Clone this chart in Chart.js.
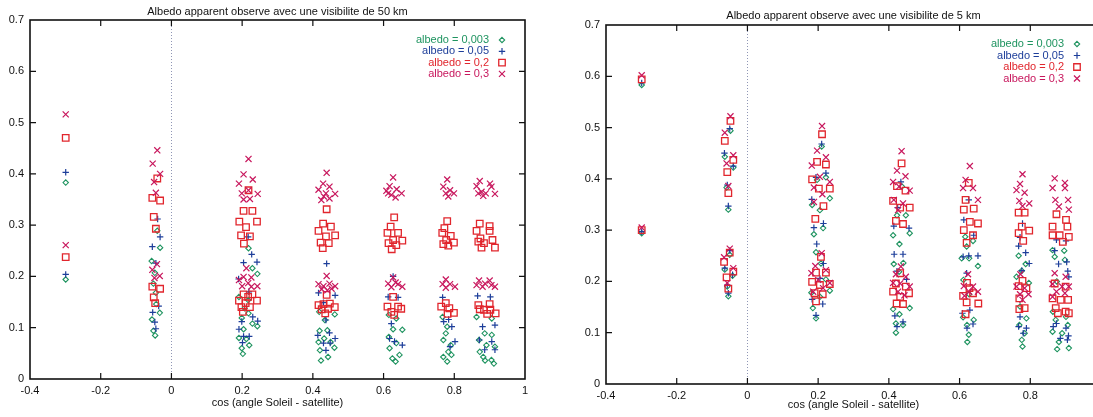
<!DOCTYPE html>
<html><head><meta charset="utf-8">
<script src="https://cdn.jsdelivr.net/npm/chart.js@4/dist/chart.umd.min.js"></script>
<style>
html,body{margin:0;padding:0;background:#fff;width:1093px;height:417px;overflow:hidden;position:relative}
#w1{position:absolute;left:0;top:0;width:546px;height:417px}
#w2{position:absolute;left:576px;top:0;width:546px;height:417px}
</style></head><body>
<div id="w1"><canvas id="c1" width="546" height="417"></canvas></div>
<div id="w2"><canvas id="c2" width="546" height="417"></canvas></div>
<script>
// ---------- tick labels / labels ----------
const xTickValues = [-0.4, -0.2, 0, 0.2, 0.4, 0.6, 0.8, 1];
const yTickValues = [0, 0.1, 0.2, 0.3, 0.4, 0.5, 0.6, 0.7];
const seriesLabels = ['albedo = 0,003', 'albedo = 0,05', 'albedo = 0,2', 'albedo = 0,3'];
const xAxisLabel = 'cos (angle Soleil - satellite)';
const title50 = 'Albedo apparent observe avec une visibilite de 50 km';
const title5 = 'Albedo apparent observe avec une visibilite de 5 km';

// ---------- visibility 50 km ----------
const vis50_a0003 = [[-0.299,0.194],[-0.299,0.383],
[-0.040,0.289],[-0.032,0.256],[-0.056,0.230],[-0.047,0.207],[-0.051,0.186],[-0.044,0.168],[-0.043,0.146],[-0.033,0.129],[-0.055,0.116],[-0.051,0.094],[-0.046,0.085],
[0.218,0.255],[0.229,0.216],[0.243,0.205],[0.191,0.160],[0.217,0.154],[0.218,0.128],[0.199,0.119],[0.229,0.108],[0.243,0.103],[0.204,0.097],[0.191,0.080],[0.212,0.078],[0.220,0.066],[0.199,0.060],[0.202,0.049],[0.207,0.138],
[0.462,0.126],[0.418,0.131],[0.434,0.115],[0.419,0.094],[0.441,0.095],[0.450,0.072],[0.461,0.061],[0.420,0.056],[0.443,0.043],[0.423,0.036],[0.416,0.072],[0.432,0.079],
[0.615,0.125],[0.636,0.118],[0.627,0.097],[0.653,0.096],[0.615,0.082],[0.636,0.070],[0.617,0.060],[0.645,0.047],[0.625,0.040],[0.634,0.034],
[0.767,0.121],[0.780,0.102],[0.776,0.089],[0.769,0.076],[0.790,0.066],[0.783,0.053],[0.769,0.043],[0.780,0.034],[0.792,0.047],
[0.863,0.121],[0.906,0.118],[0.886,0.089],[0.906,0.086],[0.870,0.076],[0.891,0.066],[0.915,0.063],[0.872,0.053],[0.882,0.043],[0.905,0.037],[0.912,0.030],[0.887,0.036]];
const vis50_a005 = [[-0.299,0.204],[-0.299,0.403],
[-0.039,0.312],[-0.032,0.277],[-0.054,0.258],[-0.044,0.226],[-0.053,0.130],[-0.047,0.111],[-0.044,0.098],[-0.036,0.142],
[0.217,0.277],[0.227,0.243],[0.204,0.227],[0.242,0.228],[0.190,0.195],[0.219,0.170],[0.199,0.112],[0.230,0.121],[0.244,0.113],[0.191,0.097],[0.204,0.083],[0.220,0.083],[0.201,0.071],
[0.439,0.225],[0.416,0.168],[0.463,0.163],[0.430,0.149],[0.437,0.115],[0.447,0.090],[0.414,0.085],[0.463,0.079],[0.430,0.070],[0.437,0.056],[0.449,0.070],
[0.627,0.200],[0.613,0.160],[0.641,0.159],[0.622,0.108],[0.617,0.079],[0.653,0.066],[0.631,0.073],
[0.767,0.159],[0.784,0.116],[0.770,0.112],[0.793,0.102],[0.802,0.073],[0.788,0.063],
[0.866,0.162],[0.902,0.160],[0.915,0.105],[0.880,0.102],[0.871,0.076],[0.906,0.073],[0.886,0.057],[0.915,0.057]];
const vis50_a02 = [[-0.299,0.470],[-0.299,0.2375],
[-0.040,0.391],[-0.054,0.353],[-0.032,0.348],[-0.050,0.316],[-0.044,0.293],[-0.054,0.180],[-0.032,0.176],[-0.050,0.159],[-0.046,0.148],
[0.218,0.368],[0.204,0.328],[0.229,0.328],[0.192,0.307],[0.242,0.307],[0.211,0.296],[0.197,0.280],[0.222,0.278],[0.205,0.264],[0.204,0.165],[0.229,0.165],[0.191,0.153],[0.242,0.153],[0.210,0.148],[0.198,0.140],[0.222,0.140],[0.202,0.131],[0.217,0.160],
[0.439,0.331],[0.429,0.303],[0.451,0.297],[0.416,0.289],[0.463,0.280],[0.437,0.278],[0.422,0.266],[0.445,0.265],[0.428,0.255],[0.439,0.164],[0.416,0.144],[0.430,0.146],[0.448,0.147],[0.462,0.140],[0.425,0.136],[0.443,0.137],[0.435,0.128],
[0.630,0.315],[0.620,0.297],[0.641,0.285],[0.611,0.285],[0.627,0.271],[0.653,0.270],[0.614,0.265],[0.636,0.261],[0.623,0.253],[0.627,0.160],[0.611,0.141],[0.641,0.141],[0.622,0.131],[0.650,0.137],[0.630,0.125],
[0.780,0.308],[0.772,0.294],[0.766,0.285],[0.790,0.279],[0.777,0.271],[0.799,0.266],[0.783,0.260],[0.769,0.263],[0.776,0.148],[0.763,0.141],[0.786,0.138],[0.799,0.129],[0.781,0.127],
[0.872,0.303],[0.900,0.298],[0.863,0.289],[0.900,0.289],[0.874,0.274],[0.908,0.271],[0.884,0.265],[0.868,0.268],[0.915,0.256],[0.877,0.256],[0.868,0.144],[0.900,0.146],[0.872,0.136],[0.884,0.135],[0.902,0.135],[0.917,0.128],[0.893,0.127]];
const vis50_a03 = [[-0.299,0.516],[-0.299,0.261],
[-0.040,0.446],[-0.053,0.420],[-0.032,0.400],[-0.049,0.384],[-0.044,0.363],[-0.054,0.213],[-0.041,0.224],[-0.033,0.201],[-0.048,0.197],
[0.218,0.429],[0.204,0.399],[0.230,0.389],[0.191,0.381],[0.199,0.362],[0.244,0.361],[0.204,0.350],[0.222,0.351],[0.218,0.368],[0.204,0.199],[0.191,0.193],[0.226,0.198],[0.200,0.181],[0.217,0.187],[0.243,0.181],[0.212,0.216],[0.226,0.180],
[0.439,0.402],[0.429,0.381],[0.447,0.375],[0.416,0.369],[0.463,0.361],[0.437,0.362],[0.424,0.349],[0.447,0.352],[0.431,0.356],[0.439,0.201],[0.416,0.185],[0.430,0.181],[0.447,0.186],[0.463,0.181],[0.425,0.175],[0.441,0.173],[0.453,0.176],
[0.627,0.393],[0.617,0.376],[0.608,0.367],[0.637,0.370],[0.651,0.362],[0.622,0.359],[0.634,0.354],[0.613,0.362],[0.627,0.198],[0.613,0.186],[0.641,0.185],[0.653,0.180],[0.622,0.179],[0.634,0.188],
[0.780,0.389],[0.769,0.375],[0.788,0.368],[0.776,0.362],[0.799,0.362],[0.783,0.356],[0.776,0.194],[0.767,0.185],[0.788,0.185],[0.802,0.180],[0.776,0.178],
[0.872,0.386],[0.863,0.376],[0.901,0.381],[0.905,0.375],[0.877,0.365],[0.889,0.362],[0.915,0.361],[0.868,0.362],[0.882,0.357],[0.870,0.192],[0.900,0.192],[0.863,0.183],[0.880,0.180],[0.905,0.183],[0.915,0.180],[0.887,0.186]];

// ---------- visibility 5 km ----------
const vis5_a0003 = [[-0.299,0.583],[-0.299,0.294],
[-0.048,0.494],[-0.064,0.443],[-0.040,0.422],[-0.059,0.383],[-0.054,0.340],[-0.050,0.252],[-0.064,0.223],[-0.042,0.211],[-0.057,0.190],[-0.054,0.171],
[0.210,0.463],[0.197,0.398],[0.222,0.403],[0.183,0.349],[0.205,0.339],[0.233,0.362],[0.214,0.304],[0.188,0.292],[0.194,0.257],[0.208,0.235],[0.222,0.204],[0.233,0.182],[0.181,0.178],[0.185,0.148],[0.205,0.170],[0.194,0.128],
[0.437,0.385],[0.423,0.329],[0.448,0.329],[0.412,0.290],[0.459,0.294],[0.430,0.273],[0.414,0.234],[0.441,0.236],[0.429,0.219],[0.412,0.146],[0.459,0.148],[0.430,0.136],[0.420,0.118],[0.440,0.115],[0.420,0.100],
[0.616,0.287],[0.638,0.279],[0.620,0.268],[0.606,0.245],[0.627,0.245],[0.652,0.230],[0.611,0.203],[0.627,0.175],[0.610,0.130],[0.640,0.125],[0.621,0.115],[0.626,0.096],[0.622,0.082],
[0.767,0.250],[0.787,0.234],[0.761,0.209],[0.776,0.221],[0.771,0.151],[0.789,0.128],[0.769,0.115],[0.784,0.099],[0.776,0.086],[0.778,0.073],[0.796,0.197],
[0.863,0.261],[0.896,0.260],[0.869,0.248],[0.898,0.242],[0.875,0.200],[0.864,0.141],[0.901,0.131],[0.872,0.125],[0.906,0.115],[0.863,0.102],[0.890,0.099],[0.881,0.082],[0.909,0.070],[0.876,0.068]];
const vis5_a005 = [[-0.299,0.587],[-0.299,0.297],
[-0.050,0.498],[-0.065,0.450],[-0.040,0.425],[-0.057,0.388],[-0.054,0.347],[-0.050,0.260],[-0.064,0.226],[-0.042,0.213],[-0.057,0.193],[-0.054,0.177],
[0.210,0.468],[0.194,0.403],[0.222,0.411],[0.182,0.360],[0.215,0.313],[0.188,0.305],[0.196,0.273],[0.205,0.206],[0.213,0.156],[0.194,0.134],[0.183,0.165],[0.215,0.235],
[0.434,0.394],[0.425,0.344],[0.414,0.308],[0.457,0.304],[0.415,0.253],[0.440,0.253],[0.423,0.220],[0.450,0.204],[0.417,0.133],[0.440,0.121],[0.423,0.112],
[0.626,0.359],[0.612,0.320],[0.640,0.290],[0.626,0.250],[0.652,0.250],[0.610,0.248],[0.620,0.216],[0.629,0.144],[0.608,0.138],[0.638,0.117],[0.621,0.109],
[0.778,0.313],[0.771,0.286],[0.787,0.256],[0.767,0.269],[0.797,0.235],[0.776,0.221],[0.771,0.131],[0.789,0.109],[0.767,0.112],[0.780,0.099],
[0.874,0.281],[0.901,0.279],[0.869,0.260],[0.903,0.238],[0.880,0.234],[0.906,0.220],[0.909,0.209],[0.874,0.118],[0.901,0.109],[0.865,0.112],[0.908,0.094],[0.885,0.089],[0.905,0.086]];
const vis5_a02 = [[-0.299,0.594],[-0.299,0.300],
[-0.048,0.513],[-0.064,0.474],[-0.040,0.437],[-0.057,0.413],[-0.054,0.372],[-0.050,0.256],[-0.066,0.238],[-0.040,0.219],[-0.059,0.208],[-0.054,0.186],
[0.211,0.487],[0.197,0.433],[0.222,0.428],[0.183,0.399],[0.202,0.381],[0.233,0.381],[0.215,0.347],[0.192,0.322],[0.208,0.248],[0.194,0.217],[0.222,0.217],[0.183,0.199],[0.205,0.193],[0.233,0.195],[0.190,0.177],[0.213,0.175],[0.194,0.161],
[0.436,0.430],[0.423,0.386],[0.447,0.377],[0.412,0.357],[0.432,0.344],[0.459,0.344],[0.420,0.318],[0.440,0.312],[0.432,0.216],[0.420,0.196],[0.448,0.190],[0.412,0.180],[0.432,0.170],[0.457,0.177],[0.422,0.157],[0.440,0.156],
[0.626,0.392],[0.617,0.359],[0.612,0.340],[0.640,0.342],[0.629,0.316],[0.652,0.313],[0.612,0.300],[0.638,0.290],[0.620,0.275],[0.621,0.197],[0.628,0.187],[0.610,0.172],[0.638,0.177],[0.620,0.159],[0.653,0.157],[0.617,0.136],
[0.767,0.334],[0.784,0.334],[0.776,0.307],[0.767,0.294],[0.797,0.299],[0.780,0.279],[0.778,0.201],[0.767,0.191],[0.789,0.187],[0.769,0.167],[0.784,0.148],[0.769,0.146],
[0.874,0.331],[0.901,0.320],[0.863,0.307],[0.905,0.307],[0.883,0.290],[0.909,0.287],[0.892,0.277],[0.863,0.290],[0.869,0.196],[0.900,0.190],[0.863,0.167],[0.886,0.164],[0.907,0.164],[0.872,0.148],[0.900,0.141],[0.878,0.138],[0.909,0.138]];
const vis5_a03 = [[-0.299,0.602],[-0.299,0.305],
[-0.048,0.522],[-0.064,0.490],[-0.040,0.446],[-0.059,0.430],[-0.054,0.386],[-0.050,0.264],[-0.066,0.247],[-0.040,0.226],[-0.057,0.197],
[0.211,0.503],[0.197,0.455],[0.222,0.442],[0.182,0.426],[0.205,0.404],[0.188,0.383],[0.212,0.370],[0.233,0.394],[0.188,0.355],[0.192,0.230],[0.181,0.216],[0.222,0.222],[0.200,0.203],[0.186,0.180],[0.214,0.187],[0.233,0.197],[0.210,0.255],
[0.436,0.454],[0.423,0.416],[0.447,0.405],[0.412,0.394],[0.429,0.385],[0.459,0.377],[0.414,0.359],[0.440,0.352],[0.426,0.339],[0.434,0.229],[0.420,0.214],[0.448,0.209],[0.412,0.197],[0.432,0.196],[0.459,0.190],[0.426,0.180],[0.444,0.173],
[0.629,0.425],[0.617,0.398],[0.610,0.382],[0.638,0.382],[0.652,0.359],[0.624,0.214],[0.612,0.191],[0.638,0.190],[0.627,0.180],[0.652,0.180],[0.614,0.172],
[0.778,0.409],[0.771,0.390],[0.761,0.378],[0.784,0.373],[0.769,0.357],[0.797,0.352],[0.778,0.347],[0.772,0.214],[0.761,0.190],[0.784,0.187],[0.771,0.175],[0.795,0.175],[0.778,0.164],
[0.869,0.401],[0.898,0.392],[0.863,0.382],[0.898,0.382],[0.871,0.359],[0.907,0.359],[0.881,0.346],[0.909,0.340],[0.869,0.216],[0.900,0.209],[0.863,0.195],[0.890,0.190],[0.909,0.190],[0.874,0.180],[0.898,0.177],[0.863,0.170]];

// ---------- styling ----------
const FONT = '"Liberation Sans", Arial, Helvetica, sans-serif';
const colors = ['#1f9460', '#1d3e9a', '#e1262d', '#c8175d'];
const styles = [
  {pointStyle:'rectRot', radius:2.7, bw:1.1},
  {pointStyle:'cross', radius:3.2, bw:1.2},
  {pointStyle:'rect', radius:4.6, bw:1.3},
  {pointStyle:'crossRot', radius:4.3, bw:1.2}
];

function toXY(arr){ return arr.map(p => ({x:p[0], y:p[1]})); }
function fmt(v){ return String(Math.round(v*10)/10); }

function drawMarker(ctx, style, x, y, color){
  ctx.save();
  ctx.strokeStyle = color; ctx.lineWidth = style.bw;
  ctx.beginPath();
  const r = style.radius;
  if (style.pointStyle === 'rectRot'){
    ctx.moveTo(x, y-r); ctx.lineTo(x+r, y); ctx.lineTo(x, y+r); ctx.lineTo(x-r, y); ctx.closePath();
  } else if (style.pointStyle === 'cross'){
    ctx.moveTo(x-r, y); ctx.lineTo(x+r, y); ctx.moveTo(x, y-r); ctx.lineTo(x, y+r);
  } else if (style.pointStyle === 'rect'){
    const s = r*Math.SQRT1_2; ctx.rect(x-s, y-s, 2*s, 2*s);
  } else {
    const s = r*Math.SQRT1_2;
    ctx.moveTo(x-s, y-s); ctx.lineTo(x+s, y+s); ctx.moveTo(x-s, y+s); ctx.lineTo(x+s, y-s);
  }
  ctx.stroke();
  ctx.restore();
}

const framePlugin = {
  id: 'gnuFrame',
  beforeDatasetsDraw(chart){
    const {ctx, chartArea:{left,right,top,bottom}, scales:{x,y}} = chart;
    ctx.save();
    const x0 = Math.round(x.getPixelForValue(0)) + 0.5;
    ctx.strokeStyle = '#8f96b5'; ctx.lineWidth = 1; ctx.setLineDash([1,2]);
    ctx.beginPath(); ctx.moveTo(x0, top); ctx.lineTo(x0, bottom); ctx.stroke();
    ctx.setLineDash([]);
    ctx.strokeStyle = '#111'; ctx.lineWidth = 1.2;
    ctx.beginPath();
    const tl = 6;
    xTickValues.forEach(v => {
      const px = x.getPixelForValue(v);
      if (px > left + 1 && px < right - 1){
        ctx.moveTo(px, bottom); ctx.lineTo(px, bottom - tl);
        ctx.moveTo(px, top); ctx.lineTo(px, top + tl);
      }
    });
    yTickValues.forEach(v => {
      const py = y.getPixelForValue(v);
      if (py > top + 1 && py < bottom - 1){
        ctx.moveTo(left, py); ctx.lineTo(left + tl, py);
        ctx.moveTo(right, py); ctx.lineTo(right - tl, py);
      }
    });
    ctx.stroke();
    ctx.lineWidth = 1.6; ctx.strokeStyle = '#111';
    ctx.strokeRect(left, top, right-left, bottom-top);
    ctx.restore();
  },
  afterDraw(chart, args, opts){
    const {ctx, chartArea:{left,right,top}} = chart;
    ctx.save();
    ctx.font = '11px ' + FONT;
    ctx.fillStyle = '#111';
    ctx.textAlign = 'center'; ctx.textBaseline = 'middle';
    ctx.fillText(opts.title, (left+right)/2, opts.titleY);
    ctx.textAlign = 'right';
    chart.data.datasets.forEach((ds, i) => {
      const yy = top + opts.legendTop + i*opts.legendGap;
      ctx.fillStyle = ds.borderColor;
      ctx.fillText(ds.label, right - opts.textRight, yy);
      drawMarker(ctx, styles[i], right - opts.markerRight, yy, ds.borderColor);
    });
    ctx.restore();
  }
};

function makeChart(id, seriesList, cfg){
  const datasets = seriesList.map((arr, i) => ({
    label: seriesLabels[i],
    data: toXY(arr),
    borderColor: colors[i],
    backgroundColor: 'rgba(0,0,0,0)',
    pointStyle: styles[i].pointStyle,
    pointRadius: styles[i].radius,
    pointBorderWidth: styles[i].bw,
    pointHoverRadius: styles[i].radius,
    showLine: false,
    order: 4 - i
  }));
  return new Chart(document.getElementById(id), {
    type: 'scatter',
    data: { datasets },
    options: {
      responsive: false,
      animation: false,
      events: [],
      layout: { padding: { top: cfg.top, right: cfg.right, left: 0, bottom: 0 } },
      plugins: {
        legend: { display: false },
        tooltip: { enabled: false },
        title: { display: false },
        gnuFrame: cfg.frame
      },
      scales: {
        x: {
          type: 'linear', min: -0.4, max: 1,
          afterBuildTicks: (ax) => { ax.ticks = xTickValues.map(v => ({value: v})); },
          afterFit: (ax) => { ax.height = cfg.xHeight; },
          grid: { display: false, drawTicks: false },
          border: { display: false },
          ticks: { padding: cfg.xPad, color: '#111', font: { family: FONT, size: 11 }, callback: fmt, maxRotation: 0, autoSkip: false },
          title: { display: true, text: xAxisLabel, color: '#111', font: { family: FONT, size: 11 }, padding: { top: 0, bottom: cfg.titlePadB } }
        },
        y: {
          type: 'linear', min: 0, max: 0.7,
          afterBuildTicks: (ax) => { ax.ticks = yTickValues.map(v => ({value: v})); },
          afterFit: (ax) => { ax.width = 30; },
          grid: { display: false, drawTicks: false },
          border: { display: false },
          ticks: { padding: 6, color: '#111', font: { family: FONT, size: 11 }, callback: fmt, autoSkip: false }
        }
      }
    },
    plugins: [framePlugin]
  });
}

makeChart('c1', [vis50_a0003, vis50_a005, vis50_a02, vis50_a03], {
  top: 20, right: 21, xHeight: 38, xPad: 5, titlePadB: 7,
  frame: { title: title50, titleY: 12, legendTop: 20, legendGap: 11.3, textRight: 36, markerRight: 23 }
});
makeChart('c2', [vis5_a0003, vis5_a005, vis5_a02, vis5_a03], {
  top: 25, right: 21, xHeight: 33, xPad: 5, titlePadB: 5,
  frame: { title: title5, titleY: 16, legendTop: 19, legendGap: 11.5, textRight: 37, markerRight: 24 }
});
</script>
</body></html>
